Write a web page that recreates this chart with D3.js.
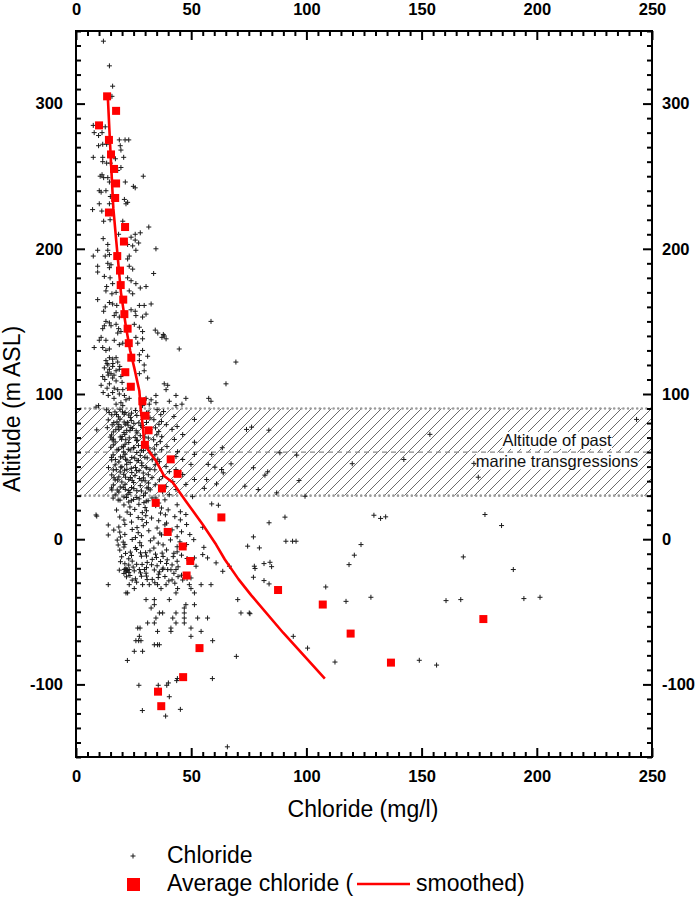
<!DOCTYPE html>
<html><head><meta charset="utf-8">
<script src="https://cdn.jsdelivr.net/npm/d3@7/dist/d3.min.js"></script>
<style>
body{margin:0;background:#fff}
svg{display:block}
text{font-family:Arial,"Liberation Sans",sans-serif}
</style>
</head><body>
<svg id="chart" width="700" height="898"></svg>
<script>
// ---------------- DATA ----------------
const xTicks = [0, 50, 100, 150, 200, 250];
const yTicks = [-100, 0, 100, 200, 300];

const avgAltitude = [305,295,285,275,265,255,245,235,225,215,205,195,185,175,165,155,145,135,125,115,105,95,85,75,65,55,45,35,25,15,5,-5,-15,-25,-35,-45,-55,-65,-75,-85,-95,-105,-115];
const avgChloride = [13.5,17.4,10.0,14.3,15.2,16.5,17.4,17.0,14.3,21.3,20.8,17.9,19.1,19.4,20.5,21.0,22.4,22.9,24.0,21.4,23.8,28.8,30.2,31.5,29.9,41.1,44.1,37.3,34.6,63.1,39.8,46.3,49.6,48.0,87.7,107.1,176.8,119.2,53.6,136.7,46.5,35.6,37.0];

const smoothChloride = [13.8,14.8,16.2,17.5,19.5,21.7,23.5,25.3,27.5,28.2,29.0,29.6,31.1,34.7,38.3,42.0,47.7,55.0,60.8,64.6,70.5,76.0,90.0,108.0];
const smoothAltitude = [305,272,228,205,170,146,130,118,102,88,78,66,62,54,43.5,39,26.2,10.1,-3.7,-14,-27.5,-38.5,-64.6,-96];

const bandLow = 30, bandMid = 60, bandHigh = 90;
const bandText = ["Altitude of past", "marine transgressions"];

// individual chloride samples [chloride, altitude]
const samplePairs = [
[11.9,343],[14.5,326],[15.9,312],[15.6,305],[7.5,285],[12.7,284],[7.9,280],[9.8,278],[11.3,280],[18.8,275],[21.3,275],[22.9,275],[9.8,271],[11.6,272],[13.3,272],[19.2,271],[19.5,268],[7.5,263],[11.6,263],[17.1,262],[20.7,263],[11.6,260],[13.3,259],[14.9,259],[19.5,256],[18.1,254],[11.3,251],[10.5,250],[12,249],[13.8,249],[14.5,246],[21.4,246],[29.2,250],[10.1,240],[10.9,239],[13,240],[24.9,243],[25.7,242],[14.9,236],[14.5,231],[21,234],[22.4,232],[21.7,231],[10.1,231],[7.2,227],[11.2,226],[14.8,220],[12,219],[20.3,219],[31.6,215],[27.9,211],[25.7,210],[23.9,208],[11.8,207],[13.8,203],[18.5,210],[22.4,203],[25.7,206],[34.7,200],
[9.4,199],[7.5,195],[13.8,199],[14.5,196],[12.7,195],[24.6,202],[26,199],[27.2,204],[23.1,195],[22.4,193],[13.8,190],[15.2,189],[14.5,187],[9.4,188],[9.4,184],[23.1,188],[24.6,186],[33.7,183],[12.3,181],[14.8,180],[15.9,176],[22.4,180],[23.9,178],[26,176],[13.3,174],[13,171],[30.4,174],[27.9,173],[23.1,171],[24.6,169],[15.6,169],[17.4,170],[9.4,165],[32.6,162],[29.6,161],[27.5,161],[14.5,163],[15.9,162],[17.7,161],[12.7,160],[12,157],[23.9,158],[25.7,157],[26,154],[17.4,156],[16.6,154],[18.8,153],[30.4,155],[28.9,153],[13,150],[14.5,149],[12.3,147],[11.6,145],[15.2,147],[17.4,148],[18.5,145],[19.5,143],[18.1,142],[25.3,148],[27.5,146],[28.9,143],[34.4,144],[35.5,142],[38.3,140],[39.1,138],[37.3,139],[37.9,141],[58.6,150],[10.9,139],[13,137],[10.1,137],[26,139],[28.9,138],[26.8,135],[16.6,137],[18.8,134],[20.3,135],[7.9,132],[11.6,132],[14.5,131],[13,130],[44.8,131],[28.9,130],[31.1,126],[27.5,127],[14.5,125],[15.9,124],[17.4,125],[13,123],[18.1,122],[13.8,120],[27.5,123],[29.6,120],[69.4,122],[12.3,118],[14.5,117],[15.9,119],[17.4,116],[18.8,117],[13.8,115],[15.2,114],[29.6,116],[27.5,114],[31.1,111],[11.6,112],[15.9,111],[17.4,109],[10.9,106],[14.5,107],[38.3,107],[39.8,106],[39.1,103],[65.1,107],[16.6,104],[18.1,103],[20.3,103],[22.4,104],[15.9,101],[18.8,100],[21,99],[23.1,97],[21.7,96],[19.5,94],[17.4,93],[20.3,92],[34.7,99],[32.6,96],[29.6,96],[30.4,97],[43.4,99],[47.7,97],[57.6,97],[58.6,95],[34.7,94],[31.8,93],[28.9,92],[9.8,92],[8.7,91],[40.5,95],[46,93],[43.4,92],
[13.5,121],[16,121],[19,119],[14,113],[16.5,113],[19.5,112],[12.5,110],[20,108],[13.5,104],[11.8,101],[14,99],[16.5,97],[9,15.9],
[90.7,15.2],[83.8,11.3],[129.3,16.5],[132.2,14.3],[134.4,15.4],[177.5,17],[184.7,9.4],[77,1.6],[91.1,-1.4],[94,-1.4],[95.5,-1.4],[123.7,-3.7],[79.6,-6],[120.8,-11],[118.5,-17.5],[168.1,-12.2],[81.6,-16.8],[84.2,-15.9],[84.9,-18.9],[77.7,-20.2],[189.8,-20.9],[77,-26.2],[81.6,-28.5],[83.8,-30.8],[108.4,-32.9],[117.2,-42.8],[128,-40],[160.6,-42.3],[167,-41.6],[194.4,-40.9],[201.4,-40],[94.3,-66.9],[100.5,-75],[112.4,-84.6],[149,-83.4],[156.5,-86.7],[75.5,-51.3],
[74,75.6],[76.2,77.2],[83.7,75.1],[63.5,63],[58.9,58.4],[153.6,72.2],[243.3,82.5],[88.5,59.5],[95.8,57.9],[119.9,52],[142.3,54.9],[174.6,42.7],[172.7,52.2],[57.4,51.5],[60.3,49.6],[63.2,48],[63.9,45.7],[67.3,51.9],[77,49.2],[82,44.1],[83.2,46.4],[56.7,41.1],[61,38.1],[55.7,35],[73.3,36.5],[79.1,34.2],[87.1,31.9],[96.8,40.4],[99.4,29.6],[58.9,24.3],[61.8,23.4]
];

// dense cluster, read row by row: [chloride values], [altitude values]
const clusterRows = [
[[13.2,16.9,19.1,21.3,25.8,30.6,35.2,38.0],[89.1,87.7,89.5,87.3,88.6,87.0,89.2,87.9]],
[[14.4,17.6,20.2,22.9,24.1,28.7,31.3],[87.3,85.9,87.7,85.5,86.8,85.2,87.4]],
[[15.5,18.4,20.9,23.6,26.4,32.1,36.8,42.5],[85.7,84.3,86.1,83.9,85.2,83.6,85.8,84.5]],
[[14.0,17.8,19.1,22.3,24.0,27.3,33.8,37.1,51.4],[82.2,80.8,82.6,80.4,81.7,80.1,82.3,81.0,82.5]],
[[16.4,18.6,20.9,22.6,25.1,28.1,30.6,36.0],[80.3,78.9,80.7,78.5,79.8,78.2,80.4,79.1]],
[[15.7,18.3,21.4,23.8,28.6,34.5,39.2,43.9],[78.8,77.4,79.2,77.0,78.3,76.7,78.9,77.6]],
[[13.6,17.3,19.6,22.0,24.5,26.1,29.1,32.0],[76.8,75.4,77.2,75.0,76.3,74.7,76.9,75.6]],
[[9.0,16.2,18.6,20.8,23.4,26.5,32.1,35.9,41.7],[75.3,73.9,75.7,73.5,74.8,73.2,75.4,74.1,75.6]],
[[15.4,19.2,21.2,25.7,27.9,31.4,35.1,37.2,46.3],[71.8,70.4,72.2,70.0,71.3,69.7,71.9,70.6,72.1]],
[[14.9,16.3,20.0,21.6,23.1,26.6,29.9],[70.3,68.9,70.7,68.5,69.8,68.2,70.4]],
[[15.7,17.0,19.8,22.9,26.3,29.4,33.7,36.6,42.7,51.4],[68.4,67.0,68.8,66.6,67.9,66.3,68.5,67.2,68.7,66.8]],
[[16.2,19.9,21.3,25.1,27.1,31.6,35.0,39.5],[65.0,63.6,65.4,63.2,64.5,62.9,65.1,63.8]],
[[15.1,18.5,20.6,23.5,25.0,28.4,30.1,34.0],[63.3,61.9,63.7,61.5,62.8,61.2,63.4,62.1]],
[[17.8,20.7,22.7,26.4,29.3,32.2,37.2,44.1],[61.5,60.1,61.9,59.7,61.0,59.4,61.6,60.3]],
[[16.1,19.3,21.3,24.2,27.9,30.9,34.3,43.4,51.4],[58.1,56.7,58.5,56.3,57.6,56.0,58.2,56.9,58.4]],
[[15.4,17.1,20.4,22.1,25.5,27.1,29.9,35.5],[56.3,54.9,56.7,54.5,55.8,54.2,56.4,55.1]],
[[15.5,18.6,21.5,23.5,26.5,28.5,33.1,36.2,46.3],[54.6,53.2,55.0,52.8,54.1,52.5,54.7,53.4,54.9]],
[[17.0,19.9,22.0,25.8,28.6,30.7,34.4,39.1,49.9],[51.2,49.8,51.6,49.4,50.7,49.1,51.3,50.0,51.5]],
[[14.1,17.5,19.4,21.1,24.0,27.4,30.4,32.1],[49.3,47.9,49.7,47.5,48.8,47.2,49.4,48.1]],
[[16.2,19.2,22.1,24.2,26.3,29.2,34.2,40.5,43.4],[47.7,46.3,48.1,45.9,47.2,45.6,47.8,46.5,48.0]],
[[15.5,18.6,20.7,23.6,25.6,29.3,31.4,37.6,46.3],[44.3,42.9,44.7,42.5,43.8,42.2,44.4,43.1,44.6]],
[[16.5,18.1,21.5,24.4,27.5,30.0,33.0],[42.3,40.9,42.7,40.5,41.8,40.2,42.4]],
[[17.0,19.9,22.9,25.0,28.6,31.5,36.2,42.0,51.4],[40.8,39.4,41.2,39.0,40.3,38.7,40.9,39.6,41.1]],
[[16.2,19.2,21.3,24.1,27.9,30.8,34.4,39.1,47.7],[37.4,36.0,37.8,35.6,36.9,35.3,37.5,36.2,37.7]],
[[15.4,17.9,20.5,22.9,25.1,28.4,31.4],[35.3,33.9,35.7,33.5,34.8,33.2,35.4]],
[[15.6,18.6,21.4,23.4,26.4,30.1,32.2,37.6,43.4],[33.9,32.5,34.3,32.1,33.4,31.8,34.0,32.7,34.2]],
[[17.0,20.8,22.6,26.4,29.3,34.7,40.5,50.6],[30.5,29.1,30.9,28.7,30.0,28.4,30.6,29.3]],
[[16.1,19.1,21.9,24.0,27.4,30.5,33.0],[28.3,26.9,28.7,26.5,27.8,26.2,28.4]],
[[18.3,22.9,25.0,29.5,31.3,35.9,38.6],[27.0,25.6,27.4,25.2,26.5,24.9,27.1]],
[[20.8,23.4,27.3,30.0,34.6,37.1,43.9],[23.6,22.2,24.0,21.8,23.1,21.5,23.7]],
[[17.6,22.2,25.5,28.8,30.6,36.7,40.0,45.3],[20.1,18.7,20.5,18.3,19.6,18.0,20.2,18.9]],
[[8.7,19.0,23.6,27.0,30.3,32.8,38.8,42.9,47.7],[16.7,15.3,17.1,14.9,16.2,14.6,16.8,15.5,17.0]],
[[20.8,24.1,28.7,30.6,35.9,39.3,45.3],[13.2,11.8,13.6,11.4,12.7,11.1,13.3]],
[[14.0,18.6,21.2,26.5,29.2,35.2,38.6,43.9,48.0,55.0],[9.8,8.4,10.2,8.0,9.3,7.7,9.9,8.6,10.1,8.2]],
[[16.4,19.0,24.4,27.0,31.6,36.4,41.7,45.8],[6.3,4.9,6.7,4.5,5.8,4.2,6.4,5.1]],
[[14.0,19.3,21.2,25.8,28.4,33.8,37.1,43.9,49.4],[2.9,1.5,3.3,1.1,2.4,0.8,3.0,1.7,3.2]],
[[17.9,20.5,24.4,27.7,32.3,35.7,41.0,45.1,51.1],[-0.6,-2.0,-0.2,-2.4,-1.1,-2.7,-0.5,-1.8,-0.3]],
[[18.3,20.8,21.2,25.8,28.4,33.8,37.8,43.9,48.0,55.5,74.5],[-4.0,-5.4,-3.6,-5.8,-4.5,-6.1,-3.9,-5.2,-3.7,-5.6,-4.8]],
[[19.0,23.6,26.3,30.2,32.1,37.4,39.3,43.9],[-7.5,-8.9,-7.1,-9.3,-8.0,-9.6,-7.4,-8.7]],
[[21.5,24.1,28.0,30.6,34.5,37.8,42.5,45.8,55.0],[-9.8,-11.2,-9.4,-11.6,-10.3,-11.9,-9.7,-11.0,-10.6]],
[[19.8,22.9,28.4,33.1,34.9,39.6,42.2,48.2,51.4,57.1],[-12.1,-13.5,-11.7,-13.9,-12.6,-14.2,-12.0,-13.3,-12.9,-12.9]],
[[19.3,21.2,24.4,26.3,30.9,32.8,36.7,39.3,43.9,60.8],[-15.5,-16.9,-15.1,-17.3,-16.0,-17.6,-15.4,-16.7,-15.2,-16.3]],
[[22.9,24.8,28.7,30.6,35.2,37.8,41.7,44.3,52.1,66.6,77.4],[-17.8,-19.2,-17.4,-19.6,-18.3,-19.9,-17.7,-19.0,-18.6,-18.6,-18.6]],
[[21.0,21.4,21.7,22.0,22.4,23.1,27.5,29.7,37.6,39.8,43.4],[-20.9,-20.5,-21.3,-20.7,-21.1,-20.9,-20.9,-20.9,-20.9,-20.9,-20.9]],
[[18.8,21.7,22.1,22.9,25.3,30.4,34.0,36.2,41.2,63.7],[-21.3,-22.7,-21.5,-22.9,-21.8,-23.4,-21.2,-22.5,-21.0,-22.1]],
[[20.8,23.4,28.0,30.6,35.9,38.6,42.5,45.8],[-23.6,-25.0,-23.2,-25.4,-24.1,-25.7,-23.5,-24.8]],
[[21.9,25.8,28.4,33.1,35.7,41.7,44.3,48.2,49.9],[-25.9,-27.3,-25.5,-27.7,-26.4,-28.0,-25.8,-27.1,-26.7]],
[[24.4,26.3,30.9,34.2,40.3,42.9,46.3],[-28.2,-29.6,-27.8,-30.0,-28.7,-30.3,-28.1]]
];

// sparse lower samples grouped by altitude: [altitude, [chloride values]]
const sampleRows = [
[-31.3,[14.0,23.1,28.9,31.8,35.4,39.1,49.2,54.3,58.6]],
[-34.0,[25.3,36.9,44.1,49.9]],
[-37.0,[21.7,22.4,43.4,51.4]],
[-41.6,[30.4,34.0,40.5,70.2]],
[-45.1,[34.0,47.7,51.4]],
[-47.4,[32.6,47.0]],
[-50.8,[36.2,37.6,43.4,47.0,71.6,75.2]],
[-54.3,[34.7,42.0,47.0,52.8,57.1]],
[-57.7,[31.1,34.0,43.4,47.0]],
[-61.2,[26.8,27.8,41.2,49.9]],
[-63.5,[35.4,41.2,54.3]],
[-66.9,[27.5,49.9]],
[-69.9,[26.0,27.2,28.2,59.3]],
[-72.7,[34.0,35.4,36.2]],
[-77.2,[25.3,28.9]],
[-80.7,[69.6]],
[-83.5,[22.3]],
[-96.0,[44.0,59.2]],
[-97.4,[43.7]],
[-99.0,[40.1]],
[-100.6,[27.3,35.7,39.4]],
[-108.5,[40.5]],
[-117.2,[45.3]],
[-118.0,[28.8]],
[-121.8,[38.9]],
[-143,[65.7]]
];

// ---------------- CHART ----------------
const svg = d3.select("#chart");
const x = d3.scaleLinear().domain([0, 250]).range([76, 652]);
const y = d3.scaleLinear().domain([-150, 350]).range([757, 31]);

const samples = samplePairs
  .concat(clusterRows.flatMap(r => r[0].map((v, i) => [v, r[1][i]])))
  .concat(sampleRows.flatMap(r => r[1].map(v => [v, r[0]])));
const averages = avgAltitude.map((a, i) => [avgChloride[i], a]);
const smooth = smoothAltitude.map((a, i) => [smoothChloride[i], a]);

// hatch pattern
const defs = svg.append("defs");
const pat = defs.append("pattern").attr("id", "hatch")
  .attr("patternUnits", "userSpaceOnUse").attr("width", 10).attr("height", 10);
pat.append("path").attr("d", "M-1,1 L1,-1 M0,10 L10,0 M9,11 L11,9")
  .attr("stroke", "#6a6a6a").attr("stroke-width", 1).attr("fill", "none");

svg.append("rect")
  .attr("x", x(0)).attr("width", x(250) - x(0))
  .attr("y", y(bandHigh)).attr("height", y(bandLow) - y(bandHigh))
  .attr("fill", "url(#hatch)");

// band label with white background
const labelG = svg.append("g");
const labelTexts = labelG.selectAll("text").data(bandText).join("text")
  .attr("x", 557).attr("y", (d, i) => 446 + i * 20.5)
  .attr("text-anchor", "middle").attr("font-size", 16.5).attr("fill", "#111")
  .text(d => d);
labelTexts.each(function () {
  const b = this.getBBox();
  labelG.insert("rect", "text").attr("x", b.x).attr("y", b.y + 1).attr("width", b.width).attr("height", b.height - 1).attr("fill", "#fff");
});

// band boundaries
[bandLow, bandHigh].forEach(v => {
  svg.append("line").attr("x1", x(0)).attr("x2", x(250)).attr("y1", y(v)).attr("y2", y(v))
    .attr("stroke", "#9a9a9a").attr("stroke-width", 2.6)
    .attr("stroke-dasharray", "0,4.6").attr("stroke-linecap", "round");
});
svg.append("line").attr("x1", x(0)).attr("x2", x(250)).attr("y1", y(bandMid)).attr("y2", y(bandMid))
  .attr("stroke", "#8a8a8a").attr("stroke-width", 1.4).attr("stroke-dasharray", "5,4");

// samples as "+"
const ps = 2.5;
svg.append("g").selectAll("path").data(samples).join("path")
  .attr("d", d => `M${x(d[0]) - ps},${y(d[1])}h${2 * ps}M${x(d[0])},${y(d[1]) - ps}v${2 * ps}`)
  .attr("stroke", "#1a1a1a").attr("stroke-width", 1).attr("fill", "none");

// smoothed line
svg.append("path").datum(smooth)
  .attr("d", d3.line().x(d => x(d[0])).y(d => y(d[1])))
  .attr("fill", "none").attr("stroke", "#ff0000").attr("stroke-width", 2.6).attr("stroke-linejoin", "round");

// average squares
const sq = 8;
svg.append("g").selectAll("rect").data(averages).join("rect")
  .attr("x", d => x(d[0]) - sq / 2).attr("y", d => y(d[1]) - sq / 2)
  .attr("width", sq).attr("height", sq).attr("fill", "#ff0000");

// axes
const xMinor = d3.range(0, 251, 5).filter(v => v % 50 !== 0);
const yMinor = d3.range(-150, 351, 10).filter(v => v % 100 !== 0);
function drawAxis(gen, tx, ty, pad) {
  const gMaj = svg.append("g").attr("transform", `translate(${tx},${ty})`)
    .call(gen.tickValues(gen.scale() === x ? xTicks : yTicks).tickSize(-9).tickSizeOuter(0).tickPadding(pad).tickFormat(d => String(d)));
  gMaj.select(".domain").remove();
  gMaj.selectAll("line").attr("stroke", "#000").attr("stroke-width", 2);
  gMaj.selectAll("text").attr("font-size", 16.5).attr("font-weight", "bold").attr("fill", "#000")
    .attr("font-family", 'Arial,"Liberation Sans",sans-serif');
}
function drawMinor(gen, tx, ty, vals) {
  const g = svg.append("g").attr("transform", `translate(${tx},${ty})`)
    .call(gen.tickValues(vals).tickSize(-5).tickSizeOuter(0).tickFormat(""));
  g.select(".domain").remove();
  g.selectAll("line").attr("stroke", "#000").attr("stroke-width", 2);
}
drawAxis(d3.axisBottom(x), 0, 757, 13);
drawAxis(d3.axisTop(x), 0, 31, 16);
drawAxis(d3.axisLeft(y), 76, 0, 13);
drawAxis(d3.axisRight(y), 652, 0, 10);
drawMinor(d3.axisBottom(x), 0, 757, xMinor);
drawMinor(d3.axisTop(x), 0, 31, xMinor);
drawMinor(d3.axisLeft(y), 76, 0, yMinor);
drawMinor(d3.axisRight(y), 652, 0, yMinor);

// frame
svg.append("rect").attr("x", 76).attr("y", 31).attr("width", 576).attr("height", 726)
  .attr("fill", "none").attr("stroke", "#000").attr("stroke-width", 2);

// axis titles
svg.append("text").attr("x", 363).attr("y", 817).attr("text-anchor", "middle")
  .attr("font-size", 23).attr("fill", "#000").text("Chloride (mg/l)");
svg.append("text").attr("transform", "translate(20,409) rotate(-90)").attr("text-anchor", "middle")
  .attr("font-size", 23).attr("fill", "#000").text("Altitude (m ASL)");

// legend
const lg = svg.append("g");
lg.append("path").attr("d", `M${133 - ps},856h${2 * ps}M133,${856 - ps}v${2 * ps}`)
  .attr("stroke", "#1a1a1a").attr("stroke-width", 1);
lg.append("text").attr("x", 167).attr("y", 863).attr("font-size", 23).attr("fill", "#000").text("Chloride");
lg.append("rect").attr("x", 127).attr("y", 878).attr("width", 13).attr("height", 13).attr("fill", "#ff0000");
lg.append("text").attr("x", 167).attr("y", 891).attr("font-size", 23).attr("fill", "#000").text("Average chloride (");
lg.append("line").attr("x1", 357).attr("x2", 410).attr("y1", 884).attr("y2", 884)
  .attr("stroke", "#ff0000").attr("stroke-width", 2.6);
lg.append("text").attr("x", 416).attr("y", 891).attr("font-size", 23).attr("fill", "#000").text("smoothed)");
</script>
</body></html>
